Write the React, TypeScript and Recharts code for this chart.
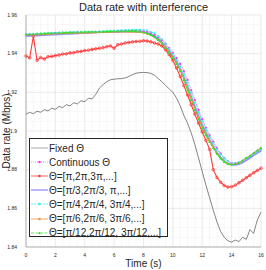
import React from 'react';
import {
  CartesianGrid,
  Line,
  LineChart,
  ReferenceLine,
  XAxis,
  YAxis,
} from 'recharts';

// time axis, one sample every 0.25 s
const time = [
  0, 0.25, 0.5, 0.75, 1, 1.25, 1.5, 1.75, 2, 2.25, 2.5, 2.75, 3, 3.25, 3.5, 3.75,
  4, 4.25, 4.5, 4.75, 5, 5.25, 5.5, 5.75, 6, 6.25, 6.5, 6.75, 7, 7.25, 7.5, 7.75,
  8, 8.25, 8.5, 8.75, 9, 9.25, 9.5, 9.75, 10, 10.25, 10.5, 10.75, 11, 11.25, 11.5, 11.75,
  12, 12.25, 12.5, 12.75, 13, 13.25, 13.5, 13.75, 14, 14.25, 14.5, 14.75, 15, 15.25, 15.5, 15.75,
  16,
];

const fixedTheta = [
  1.9088, 1.9096, 1.909, 1.9102, 1.9097, 1.911, 1.9104, 1.9118, 1.9112, 1.9127, 1.9121, 1.9136, 1.913, 1.9146, 1.914, 1.9157,
  1.9151, 1.917, 1.9166, 1.919, 1.9222, 1.924, 1.9255, 1.9265, 1.9268, 1.927, 1.9271, 1.9274, 1.9282, 1.9292, 1.9299, 1.9302,
  1.9303, 1.9302, 1.9298, 1.9288, 1.9272, 1.9255, 1.9236, 1.9218, 1.92, 1.917, 1.913, 1.908, 1.904, 1.899, 1.893, 1.886,
  1.879, 1.872, 1.8655, 1.859, 1.853, 1.848, 1.845, 1.8432, 1.8425, 1.8436, 1.8428, 1.845, 1.844, 1.849, 1.847, 1.854,
  1.858,
];

const continuousTheta = [
  1.9497, 1.9498, 1.9499, 1.95, 1.9501, 1.9502, 1.9503, 1.9504, 1.9505, 1.9506, 1.9507, 1.9507, 1.9508, 1.9508, 1.9509, 1.9509,
  1.951, 1.951, 1.9511, 1.9511, 1.9512, 1.9512, 1.9513, 1.9513, 1.9514, 1.9515, 1.9516, 1.9517, 1.9518, 1.9519, 1.9519, 1.9518,
  1.9516, 1.9513, 1.9506, 1.9497, 1.9486, 1.9471, 1.9452, 1.9429, 1.9404, 1.9378, 1.9347, 1.931, 1.9264, 1.9212, 1.916, 1.9109,
  1.9062, 1.9016, 1.8979, 1.8945, 1.8912, 1.8884, 1.886, 1.8843, 1.8834, 1.8833, 1.8837, 1.8846, 1.8858, 1.887, 1.8882, 1.8893,
  1.8904,
];

const thetaPi = [
  1.9388, 1.9378, 1.949, 1.9366, 1.938, 1.9372, 1.9384, 1.9386, 1.939, 1.9393, 1.9398, 1.9399, 1.9404, 1.9405, 1.941, 1.9412,
  1.9416, 1.9418, 1.9422, 1.9425, 1.9428, 1.9431, 1.9436, 1.944, 1.9428, 1.9446, 1.945, 1.9455, 1.9458, 1.9461, 1.9463, 1.9464,
  1.9467, 1.9465, 1.9461, 1.9455, 1.945, 1.944, 1.942, 1.9395, 1.9365, 1.9326, 1.9282, 1.9235, 1.9186, 1.9136, 1.9087, 1.904,
  1.8995, 1.8952, 1.8905, 1.88, 1.876, 1.8735, 1.8718, 1.871, 1.8712, 1.872, 1.8732, 1.8745, 1.8758, 1.8771, 1.8784, 1.8796,
  1.8808,
];

const thetaPi3 = [
  1.9491, 1.9492, 1.9493, 1.9494, 1.9495, 1.9496, 1.9497, 1.9498, 1.9499, 1.95, 1.9501, 1.9502, 1.9503, 1.9504, 1.9505, 1.9506,
  1.9507, 1.9508, 1.9509, 1.951, 1.9511, 1.9511, 1.9512, 1.9512, 1.9513, 1.9513, 1.9514, 1.9514, 1.9514, 1.9514, 1.9514, 1.9513,
  1.9511, 1.9507, 1.95, 1.949, 1.9477, 1.9459, 1.9437, 1.9413, 1.9387, 1.9357, 1.9321, 1.9277, 1.9227, 1.9176, 1.9125, 1.9077,
  1.9031, 1.8991, 1.8954, 1.8921, 1.8889, 1.8864, 1.8844, 1.883, 1.8825, 1.8825, 1.8829, 1.8837, 1.8849, 1.8861, 1.8874, 1.8886,
  1.8898,
];

const thetaPi4 = [
  1.95, 1.9501, 1.9502, 1.9503, 1.9504, 1.9505, 1.9506, 1.9507, 1.9508, 1.9509, 1.951, 1.951, 1.9511, 1.9511, 1.9512, 1.9512,
  1.9513, 1.9513, 1.9514, 1.9514, 1.9515, 1.9516, 1.9517, 1.9518, 1.9519, 1.952, 1.9521, 1.9522, 1.9523, 1.9524, 1.9524, 1.9524,
  1.9523, 1.952, 1.9514, 1.9505, 1.9491, 1.9474, 1.9452, 1.9426, 1.9398, 1.9368, 1.9334, 1.9294, 1.9248, 1.9198, 1.9147, 1.9098,
  1.9052, 1.901, 1.8972, 1.8938, 1.8906, 1.888, 1.8858, 1.8843, 1.8835, 1.8834, 1.8838, 1.8846, 1.8857, 1.8868, 1.888, 1.8892,
  1.8903,
];

const thetaPi6 = [
  1.9497, 1.9498, 1.9499, 1.9499, 1.95, 1.95, 1.9501, 1.9502, 1.9503, 1.9504, 1.9505, 1.9505, 1.9506, 1.9506, 1.9507, 1.9507,
  1.9508, 1.9508, 1.9509, 1.9509, 1.951, 1.951, 1.9511, 1.9511, 1.9512, 1.9512, 1.9513, 1.9513, 1.9513, 1.9513, 1.9512, 1.9511,
  1.9508, 1.9503, 1.9495, 1.9485, 1.9471, 1.9453, 1.9431, 1.9407, 1.9382, 1.9352, 1.9316, 1.9271, 1.922, 1.9168, 1.9117, 1.9069,
  1.9023, 1.8985, 1.8949, 1.8917, 1.8885, 1.8861, 1.8842, 1.883, 1.8827, 1.8829, 1.8835, 1.8846, 1.886, 1.8872, 1.8886, 1.8899,
  1.8911,
];

const thetaPi12 = [
  1.9499, 1.95, 1.9501, 1.9502, 1.9503, 1.9504, 1.9505, 1.9506, 1.9507, 1.9508, 1.9509, 1.9509, 1.951, 1.951, 1.9511, 1.9511,
  1.9512, 1.9512, 1.9513, 1.9513, 1.9514, 1.9514, 1.9515, 1.9515, 1.9516, 1.9516, 1.9517, 1.9517, 1.9517, 1.9517, 1.9516, 1.9515,
  1.9512, 1.9506, 1.9497, 1.9486, 1.9471, 1.9452, 1.9429, 1.9404, 1.9378, 1.9347, 1.931, 1.9264, 1.9212, 1.916, 1.9109, 1.9062,
  1.9016, 1.8979, 1.8943, 1.8912, 1.8881, 1.8858, 1.884, 1.8829, 1.8827, 1.8829, 1.8834, 1.8845, 1.886, 1.8871, 1.8886, 1.8899,
  1.8912,
];

const xTicks = [0, 2, 4, 6, 8, 10, 12, 14, 16];
const yTicks = [1.84, 1.86, 1.88, 1.9, 1.92, 1.94, 1.96];
const xMinor = [
  0.5, 1, 1.5, 2.5, 3, 3.5, 4.5, 5, 5.5, 6.5, 7, 7.5, 8.5, 9, 9.5, 10.5, 11, 11.5, 12.5, 13, 13.5, 14.5, 15, 15.5,
];
const yMinor = [
  1.845, 1.85, 1.855, 1.865, 1.87, 1.875, 1.885, 1.89, 1.895, 1.905, 1.91, 1.915, 1.925, 1.93, 1.935, 1.945, 1.95, 1.955,
];

const data = time.map((t, i) => ({
  t,
  fixed: fixedTheta[i],
  cont: continuousTheta[i],
  pi: thetaPi[i],
  pi3: thetaPi3[i],
  pi4: thetaPi4[i],
  pi6: thetaPi6[i],
  pi12: thetaPi12[i],
}));

const FONT = '"Liberation Sans", Arial, Helvetica, sans-serif';

const Triangle = (props: any) => {
  const { cx, cy, stroke } = props;
  if (cx == null || cy == null) return null;
  return (
    <polygon
      points={`${cx},${cy - 1.6} ${cx - 1.4},${cy + 1} ${cx + 1.4},${cy + 1}`}
      fill={stroke}
      stroke="none"
    />
  );
};

const series = [
  { key: 'fixed', name: 'Fixed Θ', color: '#505050', width: 0.7, dash: undefined, dot: false as any, marker: 'none' },
  { key: 'cont', name: 'Continuous Θ', color: '#ff30ff', width: 0.8, dash: '1 1', dot: { r: 1.1, fill: '#ff30ff', stroke: 'none' }, marker: 'dot' },
  { key: 'pi', name: 'Θ=[π,2π,3π,...]', color: '#ff3a3a', width: 1.1, dash: undefined, dot: { r: 1.3, fill: 'none', stroke: '#ff3a3a', strokeWidth: 0.8 }, marker: 'dot' },
  { key: 'pi3', name: 'Θ=[π/3,2π/3, π,...]', color: '#8f8fff', width: 1.8, dash: undefined, dot: false as any, marker: 'none' },
  { key: 'pi4', name: 'Θ=[π/4,2π/4, 3π/4,...]', color: '#30f4f4', width: 1, dash: '2 1', dot: { r: 1, fill: '#30f4f4', stroke: 'none' }, marker: 'dot' },
  { key: 'pi6', name: 'Θ=[π/6,2π/6, 3π/6,...]', color: '#e89a48', width: 1.2, dash: undefined, dot: { r: 0.9, fill: '#e89a48', stroke: 'none' }, marker: 'dot' },
  { key: 'pi12', name: 'Θ=[π/12,2π/12, 3π/12,...]', color: '#2ee22e', width: 1.2, dash: '3 1.5', dot: <Triangle />, marker: 'tri' },
];

function LegendBox() {
  return (
    <div
      style={{
        position: 'absolute',
        left: 29,
        top: 138,
        width: 139,
        height: 99,
        border: '1px solid #262626',
        background: '#fff',
        fontFamily: FONT,
        fontSize: 10,
        color: '#262626',
        boxSizing: 'border-box',
        paddingTop: 2,
      }}
    >
      {series.map((s) => (
        <div key={s.key} style={{ display: 'flex', alignItems: 'center', height: 14.1, whiteSpace: 'nowrap' }}>
          <svg width={17} height={8} style={{ marginLeft: 1, marginRight: 1, flex: 'none' }}>
            <line
              x1={0}
              x2={17}
              y1={4}
              y2={4}
              stroke={s.color}
              strokeWidth={s.width}
              strokeDasharray={s.dash}
              opacity={0.7}
            />
            {s.marker === 'dot' && <circle cx={8.5} cy={4} r={1.3} fill={s.color} />}
            {s.marker === 'tri' && <polygon points="8.5,2.4 7.1,5 9.9,5" fill={s.color} />}
          </svg>
          <span>{s.name}</span>
        </div>
      ))}
    </div>
  );
}

export default function App() {
  return (
    <div style={{ position: 'absolute', left: 0, top: 0, width: 266, height: 270, background: '#fff' }}>
      <LineChart width={266} height={270} data={data} margin={{ top: 15, right: 5, bottom: 0, left: 0 }}>
        <CartesianGrid stroke="#dcdcdc" strokeWidth={0.6} />
        {xMinor.map((v) => (
          <ReferenceLine key={`x${v}`} x={v} stroke="#efefef" strokeWidth={0.5} ifOverflow="hidden" />
        ))}
        {yMinor.map((v) => (
          <ReferenceLine key={`y${v}`} y={v} stroke="#efefef" strokeWidth={0.5} ifOverflow="hidden" />
        ))}
        <XAxis
          dataKey="t"
          type="number"
          domain={[0, 16]}
          ticks={xTicks}
          height={23}
          tickLine={false}
          tickMargin={0}
          stroke="#888"
          strokeWidth={0.6}
          tick={{ fontSize: 5, fill: '#262626', fontFamily: FONT }}
        />
        <XAxis xAxisId="top" orientation="top" type="number" domain={[0, 16]} ticks={xTicks} height={0} tick={false} tickLine={false} stroke="#888" strokeWidth={0.6} />
        <YAxis
          type="number"
          domain={[1.84, 1.96]}
          ticks={yTicks}
          width={26}
          tickLine={false}
          tickMargin={3}
          allowDataOverflow
          stroke="#888"
          strokeWidth={0.6}
          tickFormatter={(v: number) => String(Number(v.toFixed(2)))}
          tick={{ fontSize: 5, fill: '#262626', fontFamily: FONT }}
        />
        <YAxis yAxisId="right" orientation="right" type="number" domain={[1.84, 1.96]} width={0} tick={false} tickLine={false} stroke="#888" strokeWidth={0.6} />
        {series.map((s) => (
          <Line
            key={s.key}
            type="linear"
            dataKey={s.key}
            name={s.name}
            stroke={s.color}
            strokeWidth={s.width}
            strokeDasharray={s.dash}
            dot={s.dot}
            activeDot={false}
            isAnimationActive={false}
          />
        ))}
      </LineChart>
      <div
        style={{
          position: 'absolute',
          left: 26,
          width: 235,
          top: 1,
          textAlign: 'center',
          fontFamily: FONT,
          fontSize: 11,
          lineHeight: '12px',
          color: '#262626',
        }}
      >
        Data rate with interference
      </div>
      <div
        style={{
          position: 'absolute',
          left: 26,
          width: 235,
          top: 258,
          textAlign: 'center',
          fontFamily: FONT,
          fontSize: 10,
          lineHeight: '11px',
          color: '#262626',
        }}
      >
        Time (s)
      </div>
      <div
        style={{
          position: 'absolute',
          left: 7 - 60,
          top: 131 - 6,
          width: 120,
          textAlign: 'center',
          transform: 'rotate(-90deg)',
          fontFamily: FONT,
          fontSize: 10,
          lineHeight: '12px',
          color: '#262626',
        }}
      >
        Data rate (Mbps)
      </div>
      <LegendBox />
    </div>
  );
}
